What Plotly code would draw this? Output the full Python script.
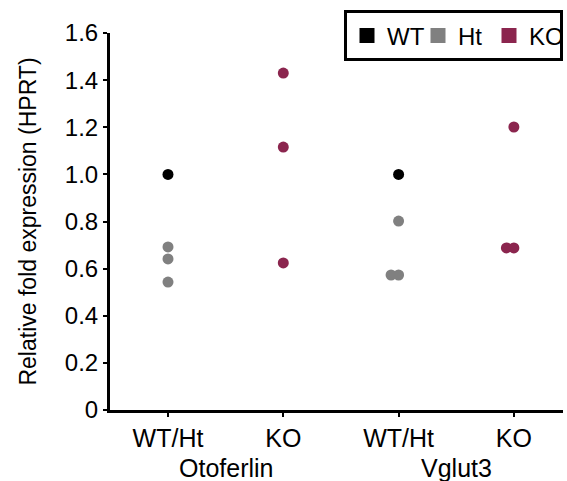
import plotly.graph_objects as go

# Category positions on x axis (tick labels)
tick_labels = ["WT/Ht", "KO", "WT/Ht", "KO"]
groups = ["Otoferlin", "Vglut3"]

# Values
wt_pos = [0, 2]
wt_vals = [1.00, 1.00]
wt_jitter = [0, 0]

ht_pos = [0, 0, 0, 2, 2, 2]
ht_vals = [0.692, 0.641, 0.543, 0.802, 0.573, 0.573]
ht_jitter = [0, 0, 0, 0, -0.065, 0]

ko_pos = [1, 1, 1, 3, 3, 3]
ko_vals = [1.430, 1.116, 0.624, 1.201, 0.688, 0.688]
ko_jitter = [0, 0, 0, 0, -0.065, 0]

colors = {"WT": "#000000", "Ht": "#808080", "KO": "#8B254E"}
FONT = "Liberation Sans, Arial, sans-serif"

fig = go.Figure()
series = [("WT", wt_pos, wt_vals, wt_jitter),
          ("Ht", ht_pos, ht_vals, ht_jitter),
          ("KO", ko_pos, ko_vals, ko_jitter)]
for name, pos, vals, jit in series:
    fig.add_trace(go.Scatter(
        x=[p + j for p, j in zip(pos, jit)], y=vals, mode="markers",
        marker=dict(color=colors[name], size=11, line=dict(width=0)),
        showlegend=False, hoverinfo="y"))
for name, _, _, _ in series:
    fig.add_trace(go.Scatter(
        x=[None], y=[None], mode="markers", name=name,
        marker=dict(color=colors[name], size=15, symbol="square")))

for i, g in enumerate(groups):
    fig.add_annotation(x=0.5 + 2 * i, y=-0.154, xref="x", yref="paper",
                       text=g, showarrow=False, yanchor="middle",
                       font=dict(family=FONT, size=25, color="black"))

fig.update_layout(
    width=567, height=481,
    margin=dict(l=110, r=4, t=33, b=71, autoexpand=False),
    plot_bgcolor="white", paper_bgcolor="white",
    font=dict(family=FONT, size=24, color="black"),
    legend=dict(orientation="h", x=1, xanchor="right", y=1.06, yanchor="top",
                bordercolor="black", borderwidth=3, font=dict(size=24),
                itemwidth=30, tracegroupgap=0, entrywidth=26),
    xaxis=dict(range=[-0.503, 3.426], tickvals=[0, 1, 2, 3], ticktext=tick_labels,
               showgrid=False, zeroline=False, showline=True, linecolor="black",
               linewidth=3, ticks="outside", ticklen=4, tickwidth=2,
               tickcolor="black", tickfont=dict(size=25), automargin=False),
    yaxis=dict(range=[0, 1.6], tickvals=[0, 0.2, 0.4, 0.6, 0.8, 1.0, 1.2, 1.4, 1.6],
               ticktext=["0", "0.2", "0.4", "0.6", "0.8", "1.0", "1.2", "1.4", "1.6"],
               showgrid=False, zeroline=False, showline=True, linecolor="black",
               linewidth=3, ticks="outside", ticklen=4, tickwidth=2,
               tickcolor="black", tickfont=dict(size=24), automargin=False,
               title=dict(text="Relative fold expression (HPRT)",
                          font=dict(size=23), standoff=22)),
)

fig.write_html("out.html", config={"displayModeBar": False},
               post_script="document.body.style.margin='0';")
